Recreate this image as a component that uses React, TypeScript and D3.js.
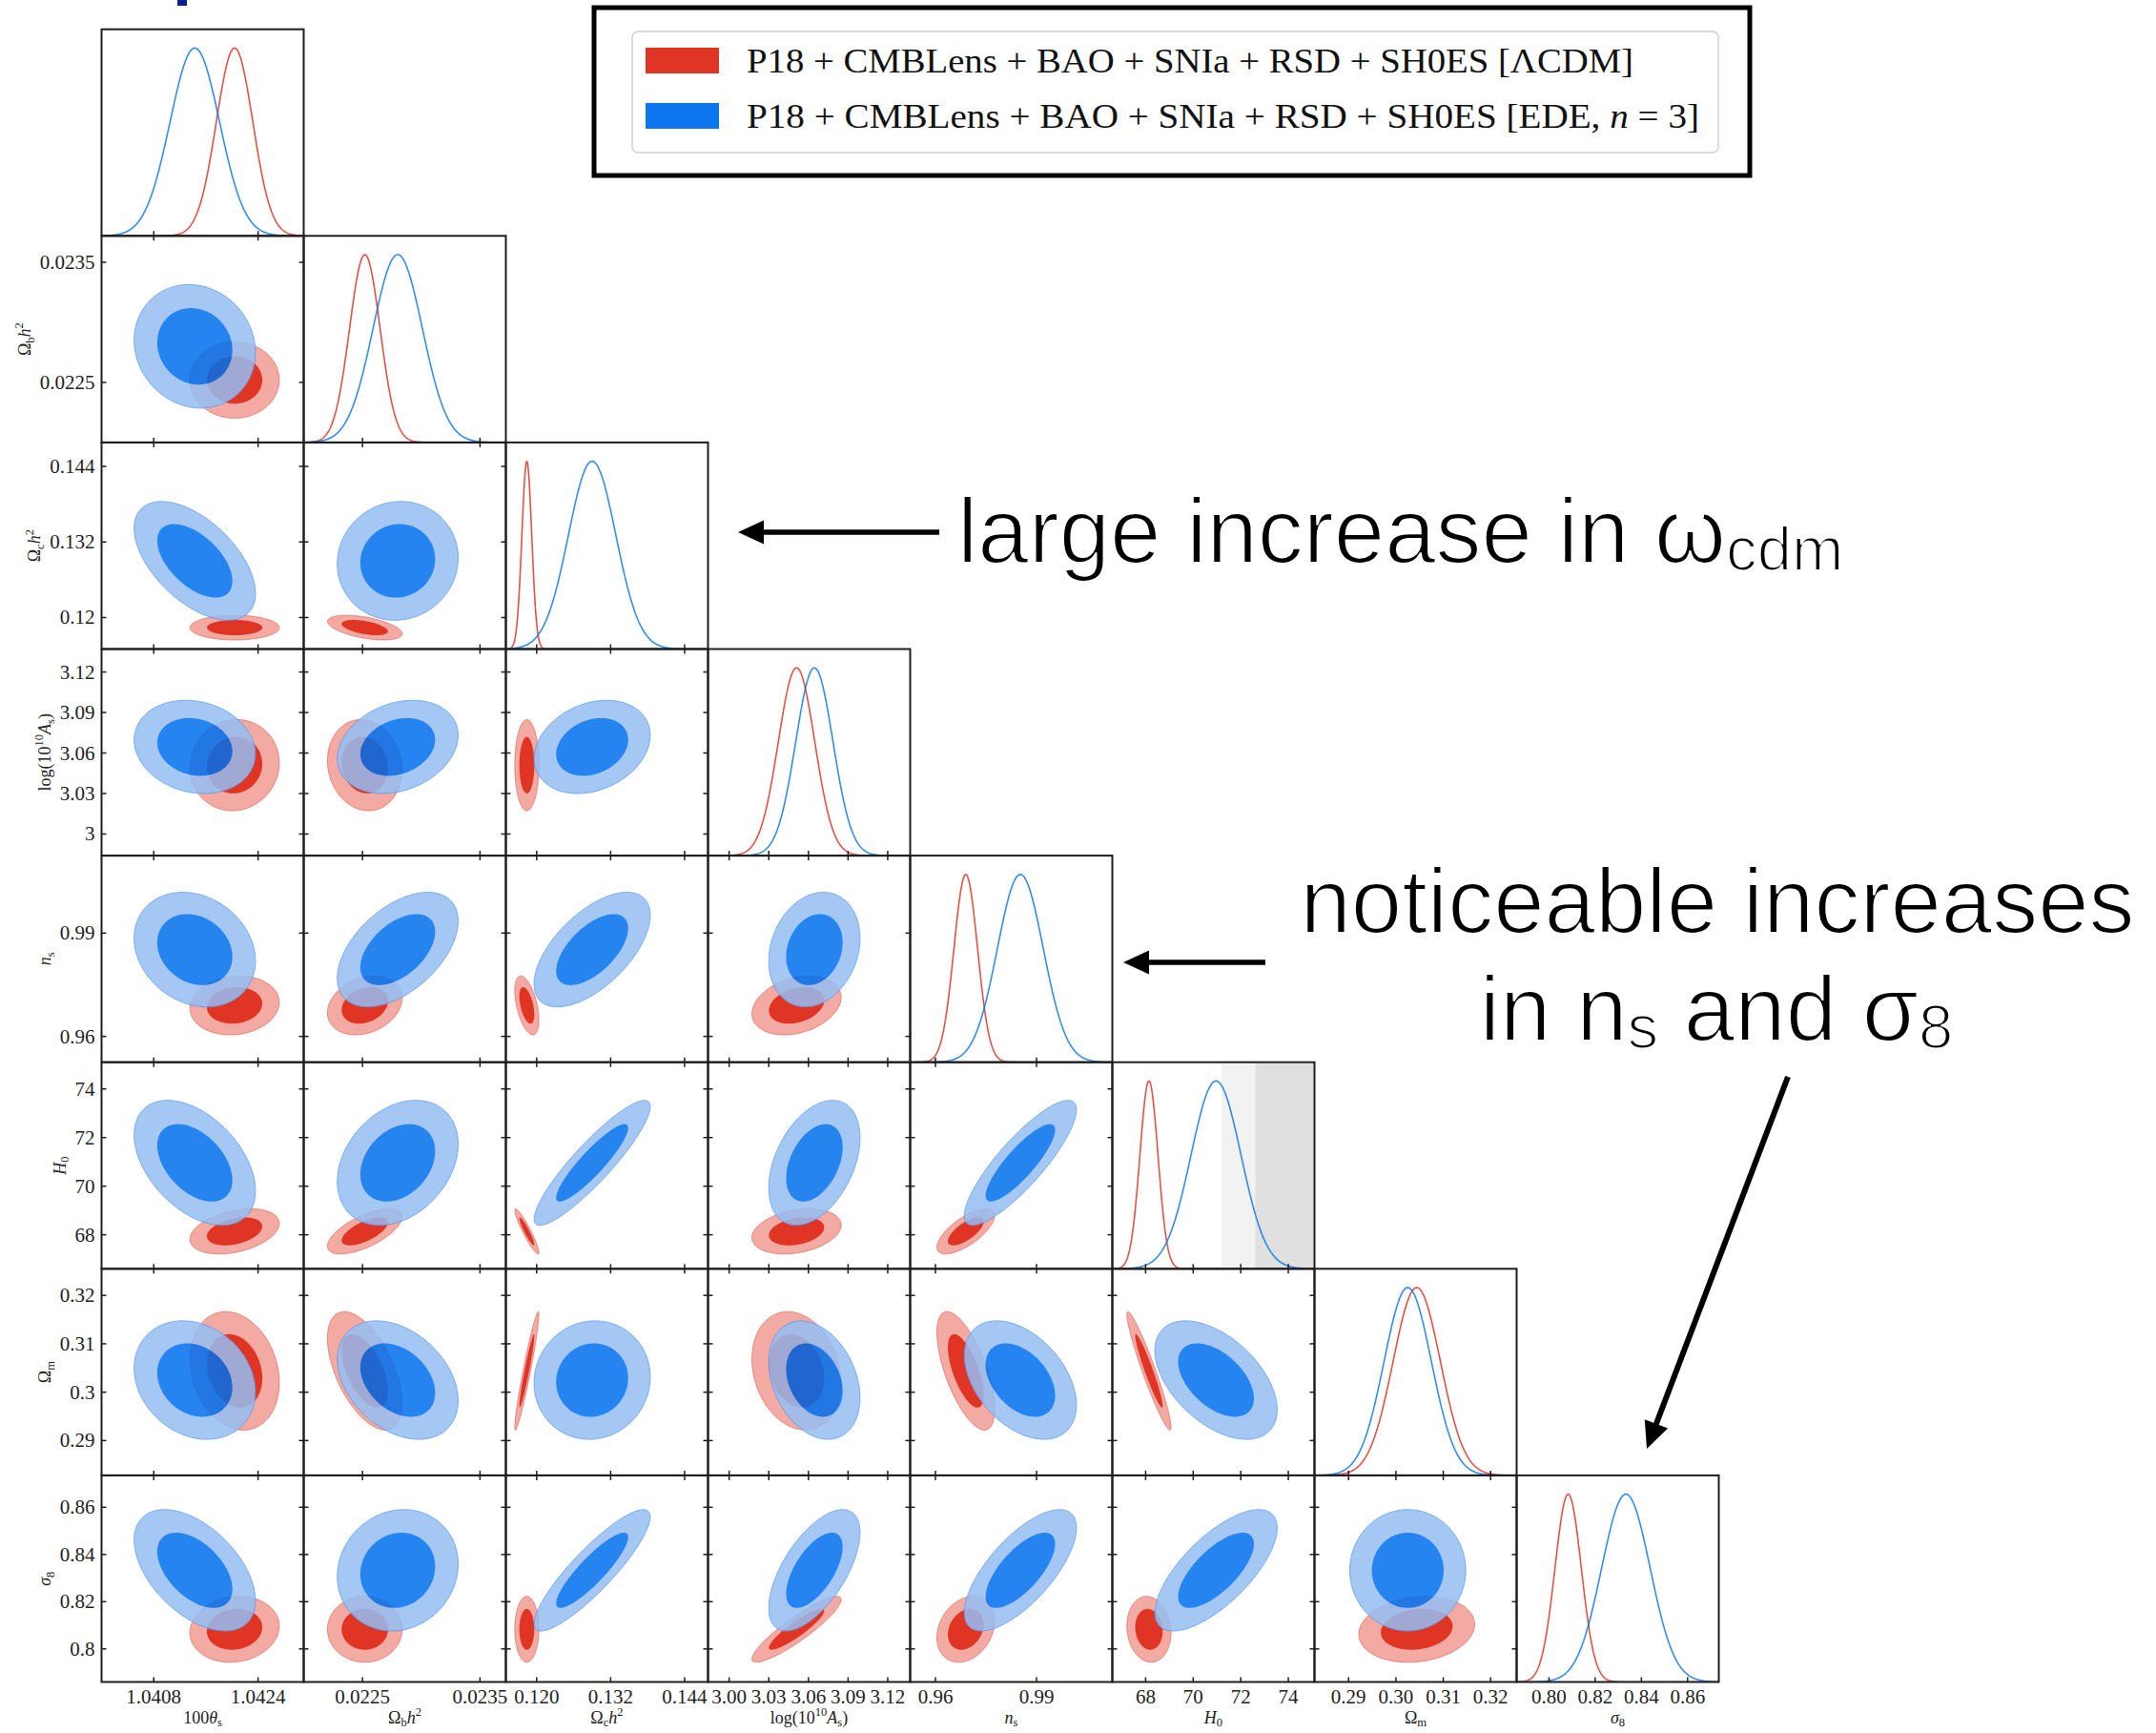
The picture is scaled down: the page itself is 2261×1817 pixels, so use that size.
import React, { useEffect } from 'react';
import * as d3 from 'd3';

const W = 2261;
const H = 1817;

// ---------------- data ----------------
const PARAMS = ['100theta_s', 'omega_b', 'omega_c', 'logA', 'n_s', 'H0', 'Omega_m', 'sigma8'];

const RANGES: [number, number][] = [
  [1.04, 1.0431],
  [0.022, 0.02372],
  [0.115, 0.1478],
  [2.984, 3.137],
  [0.9525, 1.0125],
  [66.6, 75.1],
  [0.2828, 0.3255],
  [0.786, 0.8735],
];

const TICKS: number[][] = [
  [1.0408, 1.0424],
  [0.0225, 0.0235],
  [0.12, 0.132, 0.144],
  [3.0, 3.03, 3.06, 3.09, 3.12],
  [0.96, 0.99],
  [68, 70, 72, 74],
  [0.29, 0.3, 0.31, 0.32],
  [0.8, 0.82, 0.84, 0.86],
];

const X_TICK_LABELS: string[][] = [
  ['1.0408', '1.0424'],
  ['0.0225', '0.0235'],
  ['0.120', '0.132', '0.144'],
  ['3.00', '3.03', '3.06', '3.09', '3.12'],
  ['0.96', '0.99'],
  ['68', '70', '72', '74'],
  ['0.29', '0.30', '0.31', '0.32'],
  ['0.80', '0.82', '0.84', '0.86'],
];

const Y_TICK_LABELS: string[][] = [
  ['1.0408', '1.0424'],
  ['0.0225', '0.0235'],
  ['0.12', '0.132', '0.144'],
  ['3', '3.03', '3.06', '3.09', '3.12'],
  ['0.96', '0.99'],
  ['68', '70', '72', '74'],
  ['0.29', '0.3', '0.31', '0.32'],
  ['0.8', '0.82', '0.84', '0.86'],
];

// LCDM (red)
const LCDM_MEAN = [1.04204, 0.02252, 0.1184, 3.051, 0.969, 68.14, 0.3044, 0.8083];
const LCDM_SIGMA = [0.00028, 0.00013, 0.0008, 0.0138, 0.0035, 0.38, 0.005, 0.0057];
// EDE n=3 (blue)
const EDE_MEAN = [1.04143, 0.0228, 0.129, 3.0645, 0.9852, 70.96, 0.3025, 0.8333];
const EDE_SIGMA = [0.00038, 0.00021, 0.00385, 0.0141, 0.0068, 1.05, 0.005, 0.0105];

// correlations [row, col, rho]
const LCDM_CORR: [number, number, number][] = [
  [1, 0, 0.0],
  [2, 0, 0.0], [2, 1, -0.5],
  [3, 0, 0.05], [3, 1, -0.1], [3, 2, 0.0],
  [4, 0, 0.1], [4, 1, 0.25], [4, 2, -0.5], [4, 3, 0.28],
  [5, 0, 0.35], [5, 1, 0.65], [5, 2, -0.93], [5, 3, 0.28], [5, 4, 0.7],
  [6, 0, -0.2], [6, 1, -0.55], [6, 2, 0.95], [6, 3, -0.2], [6, 4, -0.65], [6, 5, -0.95],
  [7, 0, 0.1], [7, 1, 0.0], [7, 2, 0.0], [7, 3, 0.9], [7, 4, 0.25], [7, 5, -0.1], [7, 6, 0.15],
];
const EDE_CORR: [number, number, number][] = [
  [1, 0, -0.1],
  [2, 0, -0.55], [2, 1, 0.05],
  [3, 0, -0.15], [3, 1, 0.25], [3, 2, 0.25],
  [4, 0, -0.2], [4, 1, 0.5], [4, 2, 0.6], [4, 3, 0.2],
  [5, 0, -0.45], [5, 1, 0.3], [5, 2, 0.9], [5, 3, 0.4], [5, 4, 0.85],
  [6, 0, -0.2], [6, 1, -0.35], [6, 2, 0.05], [6, 3, -0.3], [6, 4, -0.42], [6, 5, -0.5],
  [7, 0, -0.5], [7, 1, 0.1], [7, 2, 0.88], [7, 3, 0.62], [7, 4, 0.7], [7, 5, 0.7], [7, 6, 0.0],
];

// SH0ES H0 bands (2 sigma, 1 sigma)
const SHOES_BANDS = [
  { lo: 71.19, hi: 76.87, color: '#f2f2f2' },
  { lo: 72.61, hi: 75.45, color: '#e0e0e0' },
];

const LEGEND_LABELS = [
  [{ t: 'P18 + CMBLens + BAO + SNIa + RSD + SH0ES [ΛCDM]' }],
  [{ t: 'P18 + CMBLens + BAO + SNIa + RSD + SH0ES [EDE, ' }, { t: 'n', it: true }, { t: ' = 3]' }],
];

type Seg = { t: string; it?: boolean; sub?: boolean; sup?: boolean };

const AXIS_LABELS: Seg[][] = [
  [{ t: '100' }, { t: 'θ', it: true }, { t: 's', sub: true }],
  [{ t: 'Ω' }, { t: 'b', sub: true }, { t: 'h', it: true }, { t: '2', sup: true }],
  [{ t: 'Ω' }, { t: 'c', sub: true }, { t: 'h', it: true }, { t: '2', sup: true }],
  [{ t: 'log(10' }, { t: '10', sup: true }, { t: 'A', it: true }, { t: 's', sub: true }, { t: ')' }],
  [{ t: 'n', it: true }, { t: 's', sub: true }],
  [{ t: 'H', it: true }, { t: '0', sub: true }],
  [{ t: 'Ω' }, { t: 'm', sub: true }],
  [{ t: 'σ', it: true }, { t: '8', sub: true }],
];

// ---------------- layout ----------------
const L0 = 106.5;
const T0 = 30.7;
const CW = 212;
const RH = 216.6;
const N = PARAMS.length;

const RED_OUT = '#f2aaa3';
const RED_IN = '#e03424';
const BLUE_OUT = '#96bef3';
const BLUE_IN = '#006fed';
const FRAME = '#1e1e1e';
const SERIF = '"Liberation Serif", "Times New Roman", serif';
const SANS = '"Liberation Sans", Arial, Helvetica, sans-serif';

const K1 = Math.sqrt(2.3);
const K2 = Math.sqrt(5.99);

function xScale(c: number) {
  return d3.scaleLinear().domain(RANGES[c]).range([L0 + c * CW, L0 + (c + 1) * CW]);
}
function yScale(r: number) {
  return d3.scaleLinear().domain(RANGES[r]).range([T0 + (r + 1) * RH, T0 + r * RH]);
}
function corr(list: [number, number, number][], r: number, c: number) {
  const f = list.find((d) => d[0] === r && d[1] === c);
  return f ? f[2] : 0;
}

function ellipsePath(
  mx: number, my: number, sx: number, sy: number, rho: number, k: number,
  xs: d3.ScaleLinear<number, number>, ys: d3.ScaleLinear<number, number>
) {
  const q = Math.sqrt(Math.max(0, 1 - rho * rho));
  const pts = d3.range(0, 360, 2).map((a) => {
    const t = (a * Math.PI) / 180;
    const u = Math.cos(t);
    const v = Math.sin(t);
    return [xs(mx + k * sx * u), ys(my + k * sy * (rho * u + q * v))] as [number, number];
  });
  return d3.line().curve(d3.curveLinearClosed)(pts) || '';
}

function gaussPath(m: number, s: number, c: number, y0: number) {
  const xs = xScale(c);
  const ys = d3.scaleLinear().domain([0, 1.1]).range([y0 + RH, y0]);
  const [a, b] = RANGES[c];
  const pts = d3.range(0, 401).map((k) => {
    const v = a + ((b - a) * k) / 400;
    return [xs(v), ys(Math.exp(-0.5 * ((v - m) / s) ** 2))] as [number, number];
  });
  return d3.line()(pts) || '';
}

function renderSegs(segs: Seg[], F: number, subScale = 0.7, subShift = 0.22, supShift = 0.42) {
  let cur = 0;
  return segs.map((s, i) => {
    const target = s.sub ? subShift * F : s.sup ? -supShift * F : 0;
    const dy = target - cur;
    cur = target;
    return (
      <tspan
        key={i}
        dy={dy}
        fontSize={s.sub || s.sup ? F * subScale : F}
        fontStyle={s.it ? 'italic' : 'normal'}
      >
        {s.t}
      </tspan>
    );
  });
}

function labelWidth(s: string, F: number) {
  let w = 0;
  for (const ch of s) w += ch === '.' ? 0.25 : 0.5;
  return w * F;
}

export default function App() {
  useEffect(() => {
    document.body.style.margin = '0';
  }, []);

  const defs: JSX.Element[] = [];
  const content: JSX.Element[] = [];
  const frames: JSX.Element[] = [];
  const ticks: JSX.Element[] = [];
  const texts: JSX.Element[] = [];
  const TL = 5;
  const TICK_F = 21;

  for (let r = 0; r < N; r++) {
    for (let c = 0; c <= r; c++) {
      const x0 = L0 + c * CW;
      const y0 = T0 + r * RH;
      const id = `clip-${r}-${c}`;
      defs.push(
        <clipPath id={id} key={id}>
          <rect x={x0} y={y0} width={CW} height={RH} />
        </clipPath>
      );
      const xs = xScale(c);
      if (r === c) {
        const bands =
          PARAMS[c] === 'H0'
            ? SHOES_BANDS.map((b, i) => (
                <rect key={i} x={xs(b.lo)} y={y0} width={xs(b.hi) - xs(b.lo)} height={RH} fill={b.color} />
              ))
            : null;
        content.push(
          <g key={`d${r}`} clipPath={`url(#${id})`}>
            {bands}
            <path d={gaussPath(LCDM_MEAN[c], LCDM_SIGMA[c], c, y0)} fill="none" stroke={RED_IN} strokeWidth={1.6} strokeOpacity={0.85} />
            <path d={gaussPath(EDE_MEAN[c], EDE_SIGMA[c], c, y0)} fill="none" stroke={BLUE_IN} strokeWidth={1.6} strokeOpacity={0.8} />
          </g>
        );
        TICKS[c].forEach((t, i) => {
          const x = xs(t);
          ticks.push(<line key={`dt${r}-${i}`} x1={x} x2={x} y1={y0 + RH} y2={y0 + RH - TL} stroke={FRAME} strokeWidth={1.5} />);
        });
      } else {
        const ys = yScale(r);
        const rr = corr(LCDM_CORR, r, c);
        const rb = corr(EDE_CORR, r, c);
        content.push(
          <g key={`p${r}-${c}`} clipPath={`url(#${id})`}>
            <path d={ellipsePath(LCDM_MEAN[c], LCDM_MEAN[r], LCDM_SIGMA[c], LCDM_SIGMA[r], rr, K2, xs, ys)} fill={RED_OUT} stroke="#e0584d" strokeOpacity={0.6} strokeWidth={1} />
            <path d={ellipsePath(LCDM_MEAN[c], LCDM_MEAN[r], LCDM_SIGMA[c], LCDM_SIGMA[r], rr, K1, xs, ys)} fill={RED_IN} />
            <g opacity={0.85}>
              <path d={ellipsePath(EDE_MEAN[c], EDE_MEAN[r], EDE_SIGMA[c], EDE_SIGMA[r], rb, K2, xs, ys)} fill={BLUE_OUT} stroke="#5a9cf0" strokeWidth={1} />
              <path d={ellipsePath(EDE_MEAN[c], EDE_MEAN[r], EDE_SIGMA[c], EDE_SIGMA[r], rb, K1, xs, ys)} fill={BLUE_IN} />
            </g>
          </g>
        );
        TICKS[c].forEach((t, i) => {
          const x = xs(t);
          ticks.push(<line key={`b${r}-${c}-${i}`} x1={x} x2={x} y1={y0 + RH} y2={y0 + RH - TL} stroke={FRAME} strokeWidth={1.5} />);
          ticks.push(<line key={`t${r}-${c}-${i}`} x1={x} x2={x} y1={y0} y2={y0 + TL} stroke={FRAME} strokeWidth={1.5} />);
        });
        TICKS[r].forEach((t, i) => {
          const y = ys(t);
          ticks.push(<line key={`l${r}-${c}-${i}`} x1={x0} x2={x0 + TL} y1={y} y2={y} stroke={FRAME} strokeWidth={1.5} />);
          ticks.push(<line key={`r${r}-${c}-${i}`} x1={x0 + CW} x2={x0 + CW - TL} y1={y} y2={y} stroke={FRAME} strokeWidth={1.5} />);
        });
      }
      frames.push(<rect key={`f${r}-${c}`} x={x0} y={y0} width={CW} height={RH} fill="none" stroke={FRAME} strokeWidth={2} />);
    }
  }

  // x tick labels + axis labels (bottom row)
  const bottom = T0 + N * RH;
  for (let c = 0; c < N; c++) {
    const xs = xScale(c);
    TICKS[c].forEach((t, i) => {
      texts.push(
        <text key={`xl${c}-${i}`} x={xs(t)} y={bottom + 22} textAnchor="middle" fontFamily={SERIF} fontSize={TICK_F} fill="#222">
          {X_TICK_LABELS[c][i]}
        </text>
      );
    });
    texts.push(
      <text key={`xa${c}`} x={L0 + c * CW + CW / 2} y={bottom + 43} textAnchor="middle" fontFamily={SERIF} fontSize={18} fill="#222" style={{ whiteSpace: 'pre' }}>
        {renderSegs(AXIS_LABELS[c], 18)}
      </text>
    );
  }
  // y tick labels + axis labels (first column)
  for (let r = 1; r < N; r++) {
    const ys = yScale(r);
    let maxW = 0;
    TICKS[r].forEach((t, i) => {
      maxW = Math.max(maxW, labelWidth(Y_TICK_LABELS[r][i], TICK_F));
      texts.push(
        <text key={`yl${r}-${i}`} x={L0 - 7} y={ys(t) + 7} textAnchor="end" fontFamily={SERIF} fontSize={TICK_F} fill="#222">
          {Y_TICK_LABELS[r][i]}
        </text>
      );
    });
    const cx = L0 - 7 - maxW - 16;
    const cy = T0 + r * RH + RH / 2;
    texts.push(
      <text key={`ya${r}`} transform={`translate(${cx + 6},${cy}) rotate(-90)`} textAnchor="middle" fontFamily={SERIF} fontSize={18} fill="#222" style={{ whiteSpace: 'pre' }}>
        {renderSegs(AXIS_LABELS[r], 18)}
      </text>
    );
  }

  // legend
  const legend = (
    <g>
      <rect x={623} y={8} width={1212} height={176} fill="#fff" stroke="#000" strokeWidth={5} />
      <rect x={663} y={33} width={1139} height={127} rx={6} fill="#fff" stroke="#d0d0d0" strokeWidth={1.5} />
      <rect x={677} y={50} width={77} height={27} fill={RED_IN} />
      <rect x={677} y={108} width={77} height={27} fill={BLUE_IN} opacity={0.95} />
      {LEGEND_LABELS.map((segs, i) => (
        <text key={i} x={783} y={i === 0 ? 76 : 134} fontFamily={SERIF} fontSize={35} fill="#111" textLength={i === 0 ? 930 : 999} lengthAdjust="spacingAndGlyphs" style={{ whiteSpace: 'pre' }}>
          {segs.map((s: any, j: number) => (
            <tspan key={j} fontStyle={s.it ? 'italic' : 'normal'}>{s.t}</tspan>
          ))}
        </text>
      ))}
    </g>
  );

  // annotations
  const arrowHead = (tx: number, ty: number, ang: number, len: number, half: number) => {
    const ux = Math.cos(ang), uy = Math.sin(ang);
    const bx = tx - ux * len, by = ty - uy * len;
    const pts = [
      [tx, ty],
      [bx - uy * half, by + ux * half],
      [bx + uy * half, by - ux * half],
    ];
    return <polygon points={pts.map((p) => p.join(',')).join(' ')} fill="#000" />;
  };
  const ann = (
    <g>
      <line x1={985} y1={558} x2={795} y2={558} stroke="#000" strokeWidth={5.5} />
      {arrowHead(774, 558, Math.PI, 27, 12.5)}
      <line x1={1327} y1={1009} x2={1198} y2={1009} stroke="#000" strokeWidth={5.5} />
      {arrowHead(1178, 1009, Math.PI, 27, 12.5)}
      {(() => {
        const ang = Math.atan2(1519 - 1129, 1727 - 1875);
        return (
          <g>
            <line x1={1875} y1={1129} x2={1727 - Math.cos(ang) * 20} y2={1519 - Math.sin(ang) * 20} stroke="#000" strokeWidth={6} />
            {arrowHead(1727, 1519, ang, 28, 13)}
          </g>
        );
      })()}
      <g fontFamily={SANS} fill="#000" stroke="#fff" strokeWidth={2.2} style={{ whiteSpace: 'pre' }}>
        <text x={1004} y={590} fontSize={96}>
          {renderSegs([{ t: 'large increase in ω' }, { t: 'cdm', sub: true }], 96, 0.68, 0.08)}
        </text>
        <text x={1801} y={978} fontSize={96} textAnchor="middle">noticeable increases</text>
        <text x={1800} y={1091} fontSize={96} textAnchor="middle">
          {renderSegs([{ t: 'in n' }, { t: 's', sub: true }, { t: ' and σ' }, { t: '8', sub: true }], 96, 0.68, 0.08)}
        </text>
      </g>
    </g>
  );

  return (
    <svg width={W} height={H} viewBox={`0 0 ${W} ${H}`} style={{ position: 'absolute', left: 0, top: 0, display: 'block' }}>
      <defs>{defs}</defs>
      <rect width={W} height={H} fill="#fff" />
      <rect x={186} y={0} width={10} height={6} fill="#0b1f8f" />
      {content}
      {ticks}
      {frames}
      {texts}
      {legend}
      {ann}
    </svg>
  );
}
